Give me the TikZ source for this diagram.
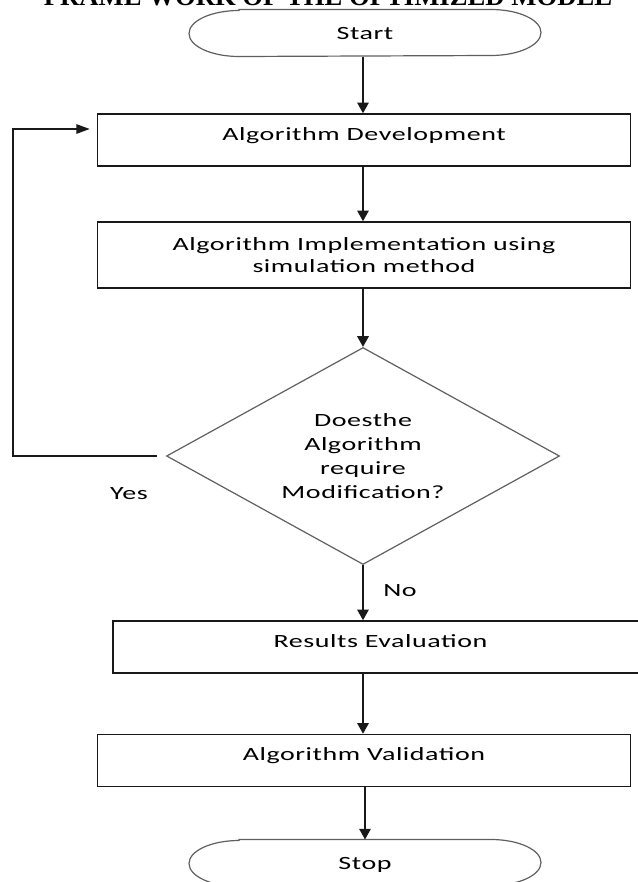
\documentclass[tikz,border=0pt]{standalone}
\usepackage{fontspec}
\usetikzlibrary{shapes.geometric,arrows.meta}

\newfontfamily\boxfont{Carlito}[FakeStretch=1.5,LetterSpace=3]
\newfontfamily\titlefont{Liberation Serif}

\definecolor{linedark}{RGB}{25,25,25}
\definecolor{shapegray}{RGB}{95,95,95}

\tikzset{every picture/.style={line width=0.75pt}}
\tikzset{
  boxbase/.style={draw=linedark, line width=1.1pt, minimum width=399.75pt, font=\boxfont\fontsize{14}{16.5}\selectfont},
  procbox/.style={boxbase, text height=19.5pt, text depth=19.5pt, inner ysep=0pt},
  termbox/.style={minimum width=263.25pt, minimum height=34.5pt, text depth=0pt, font=\boxfont\fontsize{14}{16.5}\selectfont},
  outline/.style={draw=shapegray, line width=0.9pt},
  decision/.style={diamond, draw=shapegray, line width=0.9pt, aspect=1.8, minimum width=294.75pt, minimum height=162.75pt, inner sep=0pt, align=center, font=\boxfont\fontsize{14}{18}\selectfont},
  flow/.style={draw=linedark, line width=1.5pt, -{Triangle[length=8pt,width=8.5pt]}},
  loopline/.style={draw=linedark, line width=1.2pt, -{Triangle[length=10pt,width=7pt]}},
  tag/.style={font=\boxfont\fontsize{14}{16.5}\selectfont}
}

\begin{document}
\begin{tikzpicture}[x=0.75pt,y=0.75pt,yscale=-1,xscale=1]
	\useasboundingbox (0,0) rectangle (637,882);

	% Title
	\node[anchor=base, font=\titlefont\bfseries\fontsize{20}{24}\selectfont] (title) at (328,5) {FRAME WORK OF THE OPTIMIZED MODEL};

	% Terminals
	\node[termbox] (start) at (365,33) {Start};
	\draw[outline] ([xshift=37.5pt]start.north west) -- ([xshift=-37.5pt]start.north east) arc[start angle=-90, end angle=90, x radius=37.5pt, y radius=17.25pt] -- ([xshift=37.5pt]start.south west) arc[start angle=90, end angle=270, x radius=37.5pt, y radius=17.25pt] -- cycle;
	\node[termbox] (stop) at (365,863) {Stop};
	\draw[outline] ([xshift=37.5pt]stop.north west) -- ([xshift=-37.5pt]stop.north east) arc[start angle=-90, end angle=90, x radius=37.5pt, y radius=17.25pt] -- ([xshift=37.5pt]stop.south west) arc[start angle=90, end angle=270, x radius=37.5pt, y radius=17.25pt] -- cycle;

	% Process boxes
	\node[procbox] (dev) at (364,140) {Algorithm Development};
	\node[boxbase, minimum height=49.5pt, align=center] (impl) at (364,255) {Algorithm Implementation using\\simulation method};
	\node[decision] (dia) at (363,456) {Doesthe\\Algorithm\\require\\Modification?};
	\node[procbox, minimum width=401.25pt] (res) at (380.5,647) {Results Evaluation};
	\node[procbox] (val) at (364,760.5) {Algorithm Validation};

	% Text Node
	\node[tag] (yes) at (129,494) {Yes};
	% Text Node
	\node[tag] (no) at (400,591) {No};

	% Straight Lines
	\draw[flow] (start.south -| dia.north) -- (dev.north -| dia.north);
	\draw[flow] (dev.south -| dia.north) -- (impl.north -| dia.north);
	\draw[flow] (impl.south -| dia.north) -- (dia.north);
	\draw[flow] (dia.south) -- (dia.south |- res.north);
	\draw[flow] (res.south -| dia.south) -- (val.north -| dia.south);
	\draw[flow] (val.south -| stop.north) -- (stop.north);

	% Feedback loop
	\coordinate (back) at (13,456);
	\coordinate (ret) at (13,129);
	\draw[loopline, shorten <=6.75pt, shorten >=5.25pt] (dia.west) -- (back) -- (ret) -- (dev.west |- ret);

\end{tikzpicture}
\end{document}
